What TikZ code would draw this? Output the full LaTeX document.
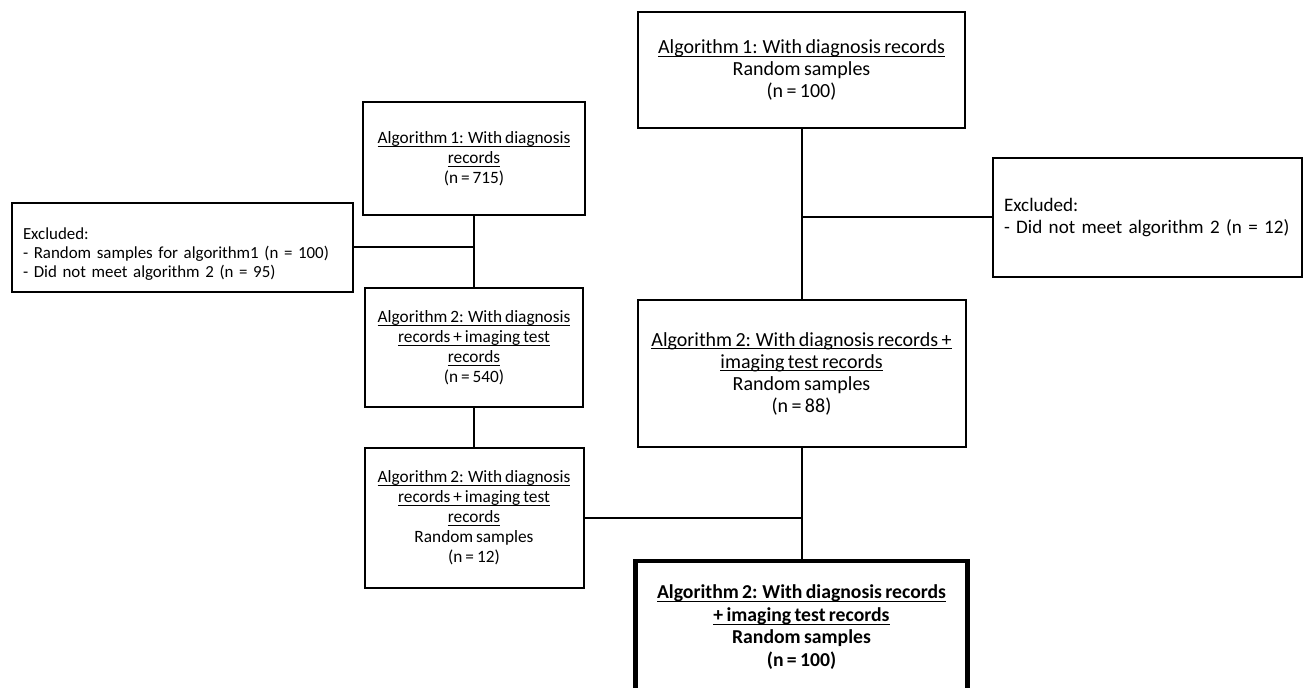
\documentclass[tikz,border=0pt]{standalone}
\usepackage{fontspec}
\setmainfont{Carlito}[WordSpace=0.75]

% underline that sits on the baseline, through the descenders
\newcommand{\undl}[1]{\underline{\smash{#1}}\vphantom{#1}}

\begin{document}
\begin{tikzpicture}[
    x=0.5pt,
    y=-0.5pt,
    box/.style={
        draw,
        line width=1pt,
        align=center,
        inner sep=0pt,
        font=\fontsize{10}{11}\selectfont
    },
    smallbox/.style={
        draw,
        line width=1pt,
        align=center,
        inner sep=0pt,
        font=\fontsize{8.65}{10}\selectfont
    },
    exclbox/.style={
        draw,
        line width=1pt,
        align=left,
        inner xsep=5.5pt,
        inner ysep=0pt
    },
    finalbox/.style={
        draw,
        line width=2.4pt,
        align=center,
        inner sep=0pt,
        font=\fontsize{9.85}{11.2}\selectfont\bfseries
    },
    link/.style={
        line width=1pt
    }
]

\useasboundingbox (0,0) rectangle (1304,688);

\node[box, minimum width=163.5pt, minimum height=58pt] (alg1rand) at (801.5,70) {
    \undl{Algorithm 1: With diagnosis records}\\
    Random samples\\
    (n = 100)
};

\node[smallbox, minimum width=111pt, minimum height=56.5pt] (alg1all) at (474,158.5) {
    \undl{Algorithm 1: With diagnosis}\\
    \undl{records}\\
    (n = 715)
};

\node[exclbox, text width=159.5pt, minimum height=44.5pt,
      font=\fontsize{8.45}{9.3}\selectfont] (exclleft) at (182.5,247.5) {
    Excluded:\rule{0pt}{12.5pt}\\
    - Random samples for algorithm1 (n = 100)\\
    - Did not meet algorithm 2 (n = 95)
};

\node[exclbox, text width=143.5pt, minimum height=59.5pt,
      font=\fontsize{9.55}{11}\selectfont] (exclright) at (1147.5,217.5) {
    Excluded:\\
    - Did not meet algorithm 2 (n = 12)
};

\node[smallbox, minimum width=109pt, minimum height=59.5pt] (alg2all) at (474,347.5) {
    \undl{Algorithm 2: With diagnosis}\\
    \undl{records + imaging test}\\
    \undl{records}\\
    (n = 540)
};

\node[box, minimum width=164pt, minimum height=73.5pt] (alg2rand) at (801.5,373.5) {
    \undl{Algorithm 2: With diagnosis records +}\\
    \undl{imaging test records}\\
    Random samples\\
    (n = 88)
};

\node[smallbox, minimum width=109.5pt, minimum height=70pt] (alg2samp) at (474,518) {
    \undl{Algorithm 2: With diagnosis}\\
    \undl{records + imaging test}\\
    \undl{records}\\
    Random samples\\
    (n = 12)
};

\node[finalbox, minimum width=166pt, minimum height=66pt] (final) at (801.5,627) {
    \undl{Algorithm 2: With diagnosis records}\\
    \undl{+ imaging test records}\\
    Random samples\\
    (n = 100)
};

% inner line of the double frame
\draw[line width=0.5pt] ([xshift=2pt,yshift=-2pt]final.north west) rectangle ([xshift=-2pt,yshift=2pt]final.south east);

\coordinate (rjoin) at (alg1rand.south |- exclright.west);

\draw[link] (alg1rand) -- (alg2rand);

\draw[link] (rjoin) -- (exclright.west);

\draw[link] (alg1all) -- (alg2all);

\draw[link] (exclleft.east) -- (exclleft.east -| alg1all.south);

\draw[link] (alg2all) -- (alg2samp);

\draw[link] (alg2rand) -- (final);

\draw[link] (alg2samp.east) -- (alg2samp.east -| alg2rand.south);

\end{tikzpicture}
\end{document}
